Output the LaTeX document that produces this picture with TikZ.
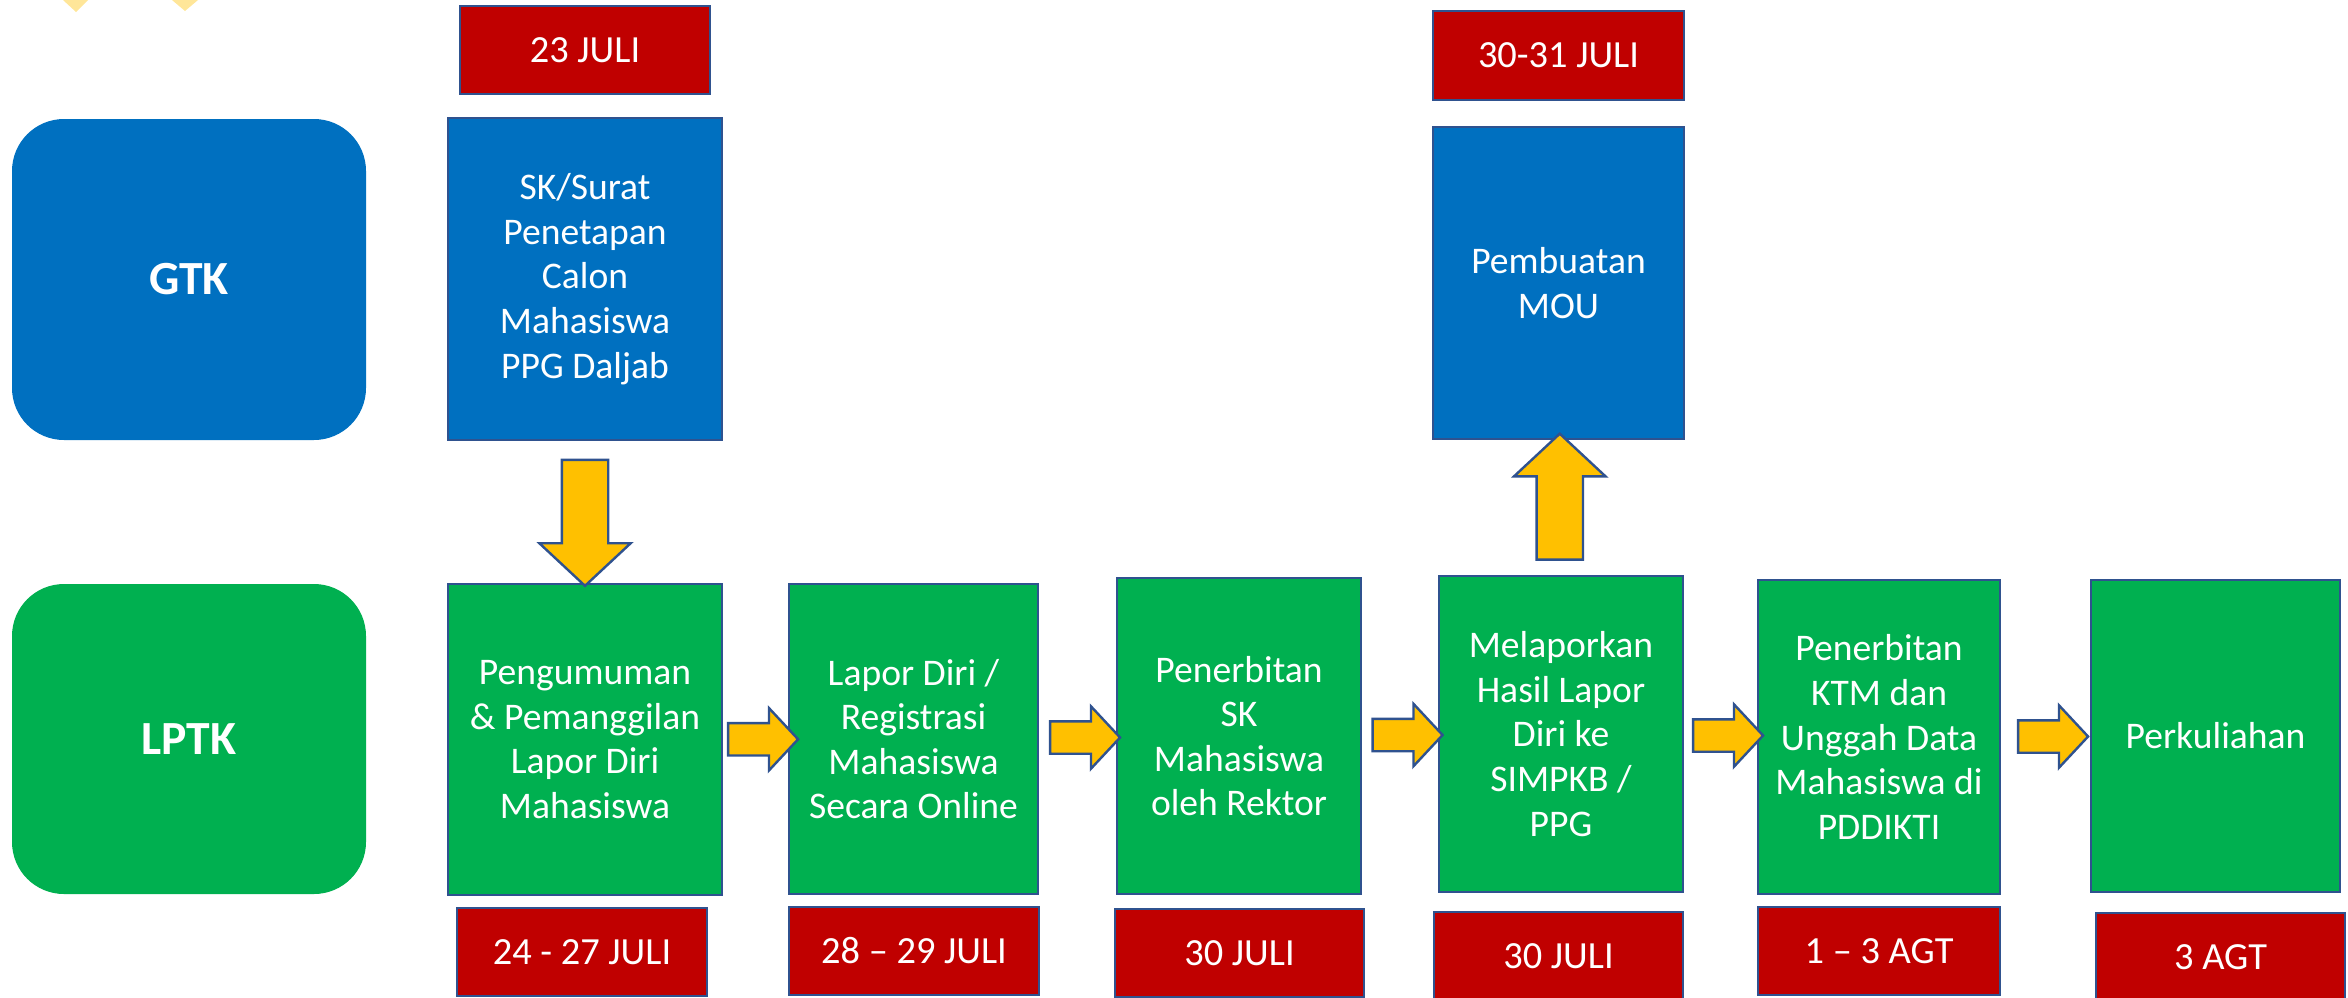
\documentclass[tikz,border=0pt]{standalone}
\usepackage{fontspec}
\setmainfont{Carlito}
\usetikzlibrary{shapes.arrows,calc}

\definecolor{gtkblue}{HTML}{0070C0}
\definecolor{lptkgreen}{HTML}{00B050}
\definecolor{datered}{HTML}{C00000}
\definecolor{arrowgold}{HTML}{FFC000}
\definecolor{edgeblue}{HTML}{2F528F}
\definecolor{paleyellow}{HTML}{FFE699}

\tikzset{
  lane/.style={rounded corners=26pt, text=white, minimum width=177pt,
    font=\fontsize{23.8}{28}\selectfont\bfseries},
  task/.style={draw=edgeblue, line width=1.2pt, text=white, align=center,
    inner sep=2pt, font=\fontsize{18.8}{22.3}\selectfont},
  datebox/.style={draw=edgeblue, line width=1.2pt, fill=datered, text=white,
    minimum height=44pt, font=\fontsize{19.2}{22.5}\selectfont},
  flowarrow/.style={single arrow, draw=edgeblue, fill=arrowgold, line width=1.2pt,
    inner xsep=0pt, inner ysep=7.5pt, single arrow head extend=7.5pt,
    single arrow tip angle=94, minimum height=35pt},
  bigarrow/.style={flowarrow, inner ysep=11pt, single arrow head extend=11.25pt,
    minimum height=63pt}
}

\begin{document}
\begin{tikzpicture}[x=0.5pt, y=-0.5pt]
\useasboundingbox (0,0) rectangle (2348,997);

\fill[paleyellow] (63,0) -- (88,0) -- (76,12) -- cycle;
\fill[paleyellow] (172,0) -- (198,0) -- (185,11) -- cycle;

\node[lane, fill=gtkblue, minimum height=160.5pt] (gtk) at (189,279.5) {GTK};
\node[lane, fill=lptkgreen, minimum height=155pt] (lptk) at (189,739) {LPTK};

\node[datebox, minimum width=125pt] (d1) at (585,50) {23 JULI};
\node[task, fill=gtkblue, minimum width=137pt, minimum height=161pt] (sk) at (585,279)
  {SK/Surat\\Penetapan\\Calon\\Mahasiswa\\PPG Daljab};
\node[datebox, minimum width=125.5pt, minimum height=44.5pt] (d5) at (1558.5,55.5) {30-31 JULI};
\node[task, fill=gtkblue, minimum width=125.5pt, minimum height=156pt] (mou) at (1558.5,283)
  {Pembuatan\\MOU};

\node[task, fill=lptkgreen, minimum width=137pt, minimum height=155.5pt] (g1) at (585,739.5)
  {Pengumuman\\\& Pemanggilan\\Lapor Diri\\Mahasiswa};
\node[task, fill=lptkgreen, minimum width=124.5pt, minimum height=155pt] (g2) at (913.5,739)
  {Lapor Diri /\\Registrasi\\Mahasiswa\\Secara Online};
\node[task, fill=lptkgreen, minimum width=122pt, minimum height=158pt] (g3) at (1239,736)
  {Penerbitan\\SK\\Mahasiswa\\oleh Rektor};
\node[task, fill=lptkgreen, minimum width=122pt, minimum height=158pt] (g4) at (1561,734)
  {Melaporkan\\Hasil Lapor\\Diri ke\\SIMPKB /\\PPG};
\node[task, fill=lptkgreen, minimum width=121pt, minimum height=157pt] (g5) at (1879,737)
  {Penerbitan\\KTM dan\\Unggah Data\\Mahasiswa di\\PDDIKTI};
\node[task, fill=lptkgreen, minimum width=124.5pt, minimum height=156pt] (g6) at (2215.5,736)
  {Perkuliahan};

\node[datebox, minimum width=125pt] (d2) at (582,952) {24 - 27 JULI};
\node[datebox, minimum width=125pt] (d3) at (914,951) {28 – 29 JULI};
\node[datebox, minimum width=124.5pt] (d4) at (1239.5,953) {30 JULI};
\node[datebox, minimum width=124.5pt] (d6) at (1558.5,956) {30 JULI};
\node[datebox, minimum width=121pt] (d7) at (1879,951) {1 – 3 AGT};
\node[datebox, minimum width=124.5pt] (d8) at (2220.5,957) {3 AGT};

\node[bigarrow, rotate=-90] (down) at ($(sk.south)!0.5!(g1.north)$) {};
\node[bigarrow, rotate=90] (up) at ($(g4.north)!0.5!(mou.south)$) {};
\node[flowarrow] (a1) at ($(g1.east)!0.5!(g2.west)$) {};
\node[flowarrow] (a2) at ($(g2.east)!0.5!(g3.west)$) {};
\node[flowarrow] (a3) at ($(g3.east)!0.5!(g4.west)$) {};
\node[flowarrow] (a4) at ($(g4.east)!0.5!(g5.west)$) {};
\node[flowarrow] (a5) at ($(g5.east)!0.5!(g6.west)$) {};
\end{tikzpicture}
\end{document}
